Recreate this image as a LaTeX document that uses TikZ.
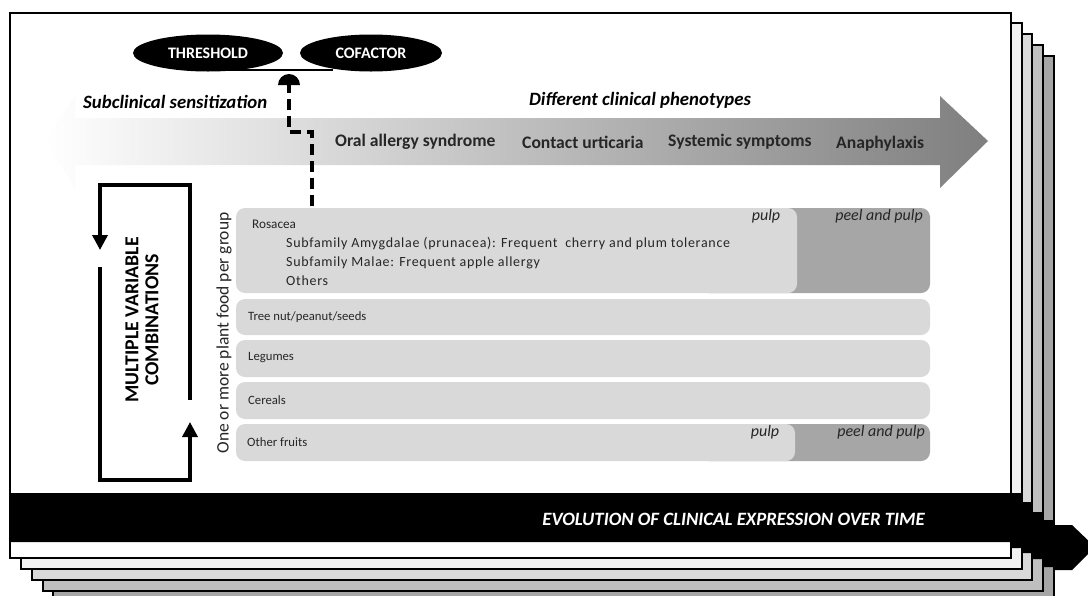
\documentclass[tikz,border=0pt]{standalone}
\usepackage{fontspec}
\setmainfont{Carlito}
\usetikzlibrary{arrows.meta,shapes.geometric}
\definecolor{boxlight}{HTML}{D9D9D9}
\definecolor{boxdark}{HTML}{A6A6A6}
\definecolor{pg2}{HTML}{F2F2F2}
\definecolor{pg3}{HTML}{D9D9D9}
\definecolor{pg4}{HTML}{BFBFBF}
\definecolor{pg5}{HTML}{A6A6A6}
\definecolor{arrgray}{HTML}{7F7F7F}
\definecolor{arrmid}{HTML}{C4C4C4}
\definecolor{txt}{HTML}{262626}
\tikzset{
  page/.style={draw=black, line width=1.6pt},
  foodbox/.style={fill=boxlight, rounded corners=9pt},
  darkbox/.style={fill=boxdark, rounded corners=9pt},
  boxtext/.style={anchor=west, inner sep=0pt, text=txt, font=\fontsize{12.7}{15}\selectfont},
  subtext/.style={anchor=west, inner sep=0pt, text=txt, font=\fontsize{14}{16}\selectfont\addfontfeature{LetterSpace=5}},
  parttext/.style={inner sep=0pt, text=txt, font=\fontsize{16}{19}\selectfont\itshape},
  oval/.style={ellipse, fill=black, inner sep=0pt, text=white, font=\fontsize{16}{19}\selectfont\bfseries},
  phen/.style={anchor=west, inner sep=0pt, text=txt, font=\fontsize{17.6}{20}\selectfont\bfseries},
  hdr/.style={inner sep=0pt, text=black, font=\fontsize{18.8}{22}\selectfont\bfseries\itshape},
  loopline/.style={line width=3.5pt},
  dashline/.style={line width=4pt, dash pattern=on 11pt off 6pt},
}
\begin{document}
\begin{tikzpicture}[x=1pt,y=-1pt]
\useasboundingbox (0,0) rectangle (1088,595);
\clip (0,0) rectangle (1088,595);
% stacked pages
\draw[page, fill=pg5] (53,56) rectangle (1054,601);
\draw[page, fill=pg4] (43,45) rectangle (1043,591);
\draw[page, fill=pg3] (32,34) rectangle (1032,580);
\draw[page, fill=pg2] (21,23) rectangle (1022,569);
\draw[page, fill=white] (10,13) rectangle (1011,558);
% gradient arrow
\shade[left color=white, middle color=arrmid, right color=arrgray]
  (45,141) -- (75,96) -- (75,118) -- (940,118) -- (940,96) -- (988,141)
  -- (940,188) -- (940,165) -- (75,165) -- (75,188) -- cycle;
\node[hdr, anchor=west] (subc) at (83,102) {Subclinical sensitization};
\node[hdr] (diff) at (640,100) {Different clinical phenotypes};
\node[phen] (oas) at (335,142) {Oral allergy syndrome};
\node[phen] (cu) at (522,142) {Contact urticaria};
\node[phen] (ss) at (668,142) {Systemic symptoms};
\node[phen] (ana) at (836,144) {Anaphylaxis};
% threshold / cofactor
\node[oval, minimum width=150pt, minimum height=37pt] (thr) at (208,53) {THRESHOLD};
\node[oval, minimum width=142pt, minimum height=37pt] (cof) at (371,53) {COFACTOR};
\coordinate (bl) at (227,70);
\coordinate (br) at (333,70);
\draw[line width=1.5pt] (bl) -- (br);
% dashed connector with round cap
\coordinate (dstart) at (312,206);
\coordinate (capc) at (289,85);
\draw[dashline] (dstart) -- (312,132) -- (289,132) -- (capc);
\fill ([xshift=11pt]capc) arc[start angle=0, end angle=180, radius=11pt] -- cycle;
% loop
\coordinate (la) at (190,400);
\coordinate (lb) at (100,250);
\coordinate (lc) at (100,267);
\coordinate (ld) at (190,422);
\draw[loopline, -{Triangle[length=15pt,width=15pt]}] (la) -- (190,185) -- (100,185) -- (lb);
\draw[loopline, -{Triangle[length=15pt,width=15pt]}] (lc) -- (100,480) -- (190,480) -- (ld);
\node[rotate=90, align=center, inner sep=0pt, font=\fontsize{19.8}{20}\selectfont\bfseries] (mvc) at (142,320) {MULTIPLE VARIABLE\\COMBINATIONS};
\node[rotate=90, inner sep=0pt, text=txt, font=\fontsize{17.5}{20}\selectfont] (opf) at (224,333) {One or more plant food per group};
% food boxes
\fill[darkbox] (700,208) rectangle (930,293);
\fill[foodbox] (236,208) rectangle (797,293);
\fill[foodbox] (236,299) rectangle (930,335);
\fill[foodbox] (236,340) rectangle (930,377);
\fill[foodbox] (236,382) rectangle (930,419);
\fill[darkbox] (700,424) rectangle (930,461);
\fill[foodbox] (236,424) rectangle (795,461);
\node[boxtext, font=\fontsize{13.2}{15}\selectfont] (ros) at (252,224) {Rosacea};
\node[subtext] (amy) at (286,244) {Subfamily Amygdalae (prunacea): Frequent\ \ cherry and plum tolerance};
\node[subtext] (mal) at (286,263) {Subfamily Malae: Frequent apple allergy};
\node[subtext] (oth) at (286,281) {Others};
\node[parttext] (p1) at (766,216) {pulp};
\node[parttext, anchor=east] (pp1) at (923,216) {peel and pulp};
\node[boxtext] (tn) at (248,317) {Tree nut/peanut/seeds};
\node[boxtext] (leg) at (248,358) {Legumes};
\node[boxtext] (cer) at (248,400) {Cereals};
\node[boxtext] (of) at (247,442) {Other fruits};
\node[parttext] (p2) at (765,432) {pulp};
\node[parttext, anchor=east] (pp2) at (925,432) {peel and pulp};
% black time arrow
\fill[black] (10,493) -- (1022,493) -- (1022,502) -- (1032,502) -- (1032,512) -- (1043,512)
  -- (1043,520) -- (1054,520) -- (1054,525) -- (1072,525) -- (1095,547) -- (1072,570)
  -- (1054,570) -- (1054,567) -- (1043,567) -- (1043,559) -- (1032,559) -- (1032,553)
  -- (1022,553) -- (1022,548) -- (1011,548) -- (1011,542) -- (10,542) -- cycle;
\node[hdr, text=white, anchor=east] (evo) at (925,519) {EVOLUTION OF CLINICAL EXPRESSION OVER TIME};
\end{tikzpicture}
\end{document}
